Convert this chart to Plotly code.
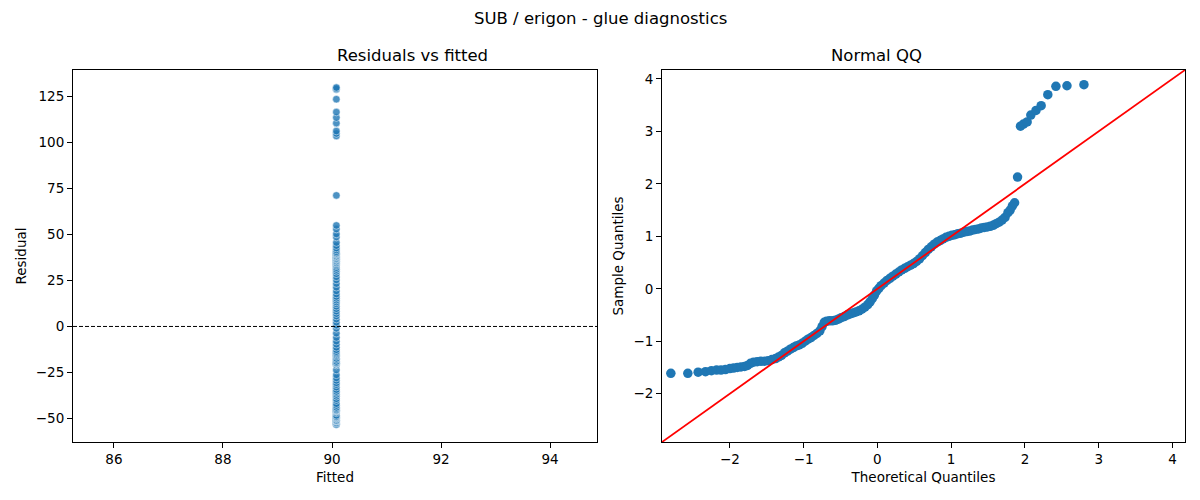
import plotly.graph_objects as go

# QQ plot readings (theoretical quantile, standardized residual), ascending
theoretical_q = [
    -2.80, -2.57, -2.43, -2.33, -2.25, -2.18, -2.12, -2.06, -2.00, -1.95,
    -1.90, -1.85, -1.80, -1.76, -1.72, -1.68, -1.63, -1.58, -1.53, -1.48,
    -1.43, -1.38, -1.34, -1.30, -1.26, -1.22, -1.18, -1.14, -1.10, -1.06,
    -1.02, -0.98, -0.94, -0.90, -0.86, -0.82, -0.78, -0.75, -0.72, -0.69,
    -0.65, -0.61, -0.57, -0.53, -0.49, -0.45, -0.41, -0.37, -0.33, -0.29,
    -0.25, -0.21, -0.17, -0.13, -0.10, -0.07, -0.04, -0.01, 0.02, 0.05,
    0.09, 0.13, 0.17, 0.21, 0.25, 0.29, 0.33, 0.37, 0.41, 0.45,
    0.49, 0.53, 0.57, 0.61, 0.65, 0.69, 0.73, 0.77, 0.81, 0.85,
    0.89, 0.93, 0.97, 1.01, 1.05, 1.09, 1.13, 1.17, 1.21, 1.25,
    1.29, 1.33, 1.37, 1.41, 1.45, 1.49, 1.53, 1.57, 1.61, 1.65,
    1.69, 1.73, 1.77, 1.80, 1.83, 1.86, 1.90, 1.94, 1.98, 2.03,
    2.08, 2.15, 2.22, 2.31, 2.42, 2.57, 2.80,
]
sample_q = [
    -1.61, -1.61, -1.59, -1.58, -1.56, -1.55, -1.55, -1.54, -1.52, -1.51,
    -1.50, -1.49, -1.48, -1.46, -1.42, -1.40, -1.39, -1.38, -1.38, -1.37,
    -1.35, -1.33, -1.30, -1.27, -1.22, -1.19, -1.15, -1.12, -1.09, -1.07,
    -1.04, -1.00, -0.96, -0.93, -0.89, -0.85, -0.80, -0.72, -0.64, -0.62,
    -0.61, -0.61, -0.60, -0.58, -0.55, -0.53, -0.50, -0.48, -0.46, -0.44,
    -0.42, -0.39, -0.35, -0.30, -0.25, -0.19, -0.12, -0.04, 0.01, 0.06,
    0.11, 0.16, 0.20, 0.24, 0.28, 0.32, 0.36, 0.39, 0.42, 0.45,
    0.48, 0.52, 0.57, 0.63, 0.69, 0.75, 0.80, 0.85, 0.89, 0.92,
    0.95, 0.98, 1.00, 1.02, 1.03, 1.05, 1.06, 1.08, 1.09, 1.10,
    1.12, 1.13, 1.14, 1.16, 1.17, 1.18, 1.19, 1.21, 1.24, 1.27,
    1.31, 1.36, 1.45, 1.50, 1.58, 1.64, 2.13, 3.10, 3.14, 3.18,
    3.31, 3.40, 3.49, 3.70, 3.86, 3.87, 3.89,
]

fitted_value = 90.08
resid_sd = 33.3
resid_mean = 0.3
residuals = [resid_mean + resid_sd * s for s in sample_q]
fitted = [fitted_value] * len(residuals)

qq_lims = [-2.92, 4.17]

# page body adds an 8px offset, so positions are pulled back by that much
left_dom = [65 / 1200, 589 / 1200]
right_dom = [654 / 1200, 1177 / 1200]
y_dom = [1 - 434 / 500, 1 - 62 / 500]

fig = go.Figure()

fig.add_trace(go.Scatter(
    x=fitted, y=residuals, mode="markers", xaxis="x", yaxis="y",
    marker=dict(size=7.5, color="rgba(31,119,180,0.8)",
                line=dict(color="white", width=0.5)),
    showlegend=False))

fig.add_trace(go.Scatter(
    x=theoretical_q, y=sample_q, mode="markers", xaxis="x2", yaxis="y2",
    marker=dict(size=9.5, color="#1f77b4", line=dict(width=0)),
    showlegend=False))

fig.add_trace(go.Scatter(
    x=qq_lims, y=qq_lims, mode="lines", xaxis="x2", yaxis="y2",
    line=dict(color="red", width=1.8), showlegend=False))

fig.add_shape(type="line", xref="x domain", yref="y", x0=0, x1=1, y0=0, y1=0,
              line=dict(color="black", width=1, dash="4px,2px"))

axis_style = dict(showline=True, linecolor="black", linewidth=1, mirror=True,
                  ticks="outside", ticklen=5, tickcolor="black", showgrid=False,
                  zeroline=False, tickfont=dict(size=13.5, color="black"))

fig.update_layout(
    width=1200, height=500,
    margin=dict(l=0, r=0, t=0, b=0),
    paper_bgcolor="white", plot_bgcolor="white",
    font=dict(family="DejaVu Sans", color="black"),
    xaxis=dict(domain=left_dom, range=[85.25, 94.86],
               tickvals=[86, 88, 90, 92, 94], anchor="y",
               title=dict(text="Fitted", font=dict(size=13.5), standoff=6),
               **axis_style),
    yaxis=dict(domain=y_dom, range=[-62.8, 139.4],
               tickvals=[-50, -25, 0, 25, 50, 75, 100, 125], anchor="x",
               title=dict(text="Residual", font=dict(size=13.5), standoff=6),
               **axis_style),
    xaxis2=dict(domain=right_dom, range=qq_lims,
                tickvals=[-2, -1, 0, 1, 2, 3, 4], anchor="y2",
                title=dict(text="Theoretical Quantiles", font=dict(size=13.5), standoff=6),
                **axis_style),
    yaxis2=dict(domain=y_dom, range=qq_lims,
                tickvals=[-2, -1, 0, 1, 2, 3, 4], anchor="x2",
                title=dict(text="Sample Quantiles", font=dict(size=13.5), standoff=6),
                **axis_style),
    annotations=[
        dict(text="SUB / erigon - glue diagnostics", x=592 / 1200, y=1 - 10 / 500,
             xref="paper", yref="paper", yanchor="middle", showarrow=False,
             font=dict(size=16.5)),
        dict(text="Residuals vs fitted", x=sum(left_dom) / 2, y=1 - 48 / 500,
             xref="paper", yref="paper", yanchor="middle", showarrow=False,
             font=dict(size=16.5)),
        dict(text="Normal QQ", x=sum(right_dom) / 2, y=1 - 48 / 500,
             xref="paper", yref="paper", yanchor="middle", showarrow=False,
             font=dict(size=16.5)),
    ],
)

fig.write_html("out.html")
